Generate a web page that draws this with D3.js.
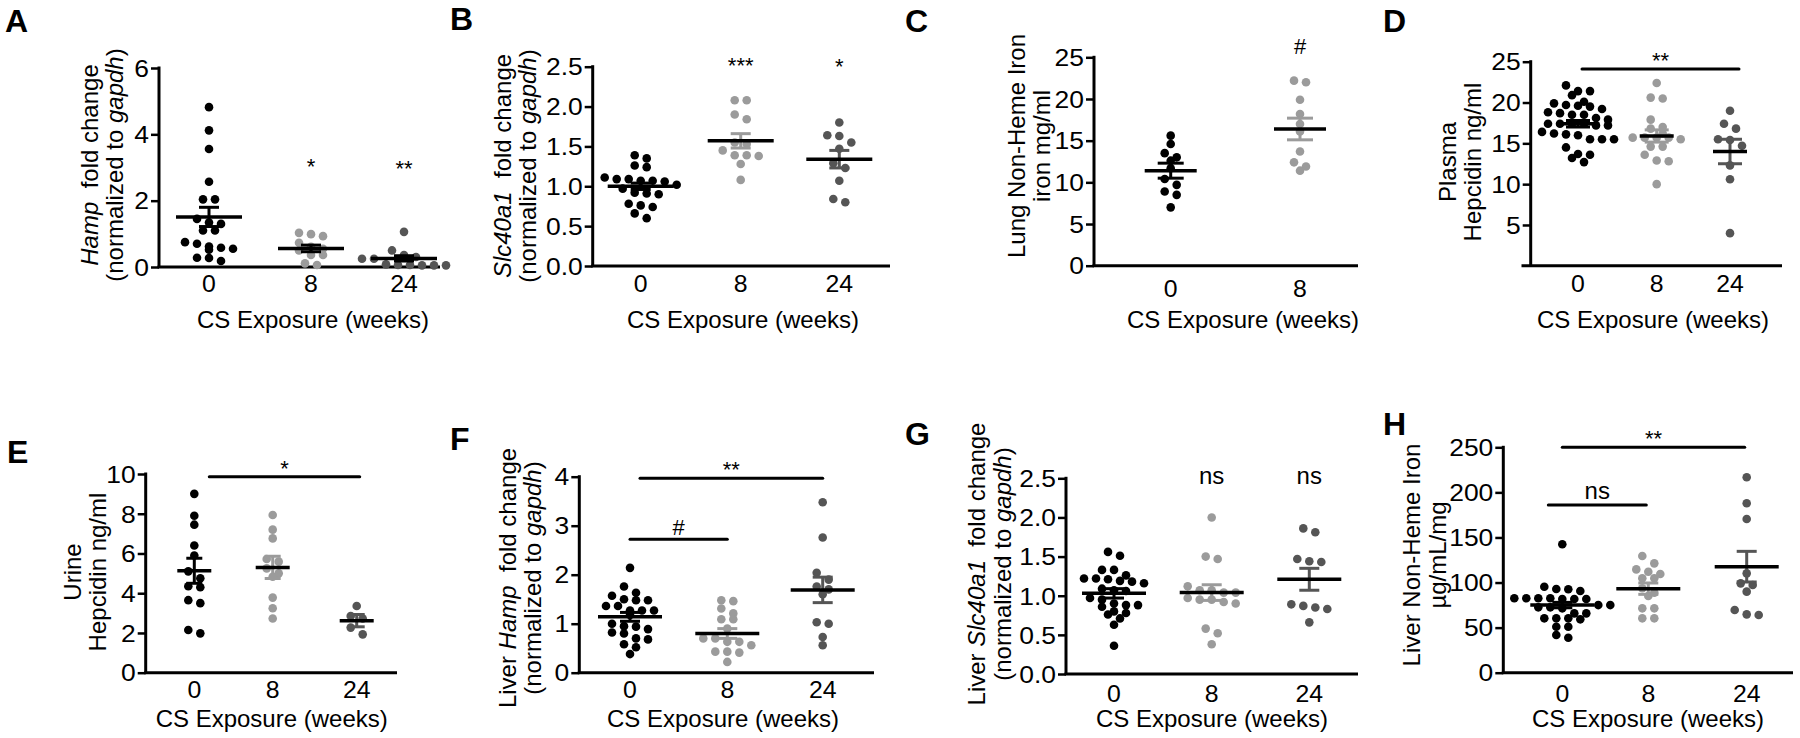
<!DOCTYPE html>
<html><head><meta charset="utf-8">
<script src="https://cdn.jsdelivr.net/npm/d3@7"></script>
<style>
body{margin:0;background:#fff}
svg{display:block}
text{font-family:"Liberation Sans",Arial,Helvetica,sans-serif;fill:#000}
</style>
</head><body>
<svg id="chart" width="1800" height="738"></svg>
<script>
// ---------------- DATA ----------------
const cats3 = ["0", "8", "24"];
const cats2 = ["0", "8"];
const groupColor = {"0": "#000000", "8": "#9b9b9b", "24": "#555555"};

// A: Hamp fold change
const aVals0 = [4.82,4.12,3.56,2.57,2.04,2.04,1.45,1.34,1.30,1.10,1.10,0.75,0.70,0.62,0.58,0.55,0.52,0.28,0.27,0.18];
const aVals8 = [1.03,0.99,0.93,0.73,0.61,0.55,0.50,0.36,0.36,0.11,0.06];
const aVals24 = [1.06,0.50,0.36,0.30,0.25,0.25,0.08,0.06,0.05,0.05,0.05,0.06];
const aMeans = [1.51,0.56,0.26];
const aSems = [0.29,0.10,0.08];
const aTicks = [0,2,4,6];

// B: Slc40a1 fold change
const bVals0 = [1.39,1.35,1.26,1.24,1.11,1.09,1.09,1.07,1.07,1.06,1.02,0.97,0.92,0.91,0.90,0.78,0.76,0.74,0.66,0.60];
const bVals8 = [2.08,2.08,1.90,1.84,1.55,1.53,1.45,1.39,1.39,1.38,1.28,1.08];
const bVals24 = [1.80,1.64,1.63,1.55,1.47,1.29,1.23,1.07,0.84,0.80];
const bMeans = [1.00,1.57,1.34];
const bSems = [0.04,0.09,0.11];
const bTicks = [0,0.5,1.0,1.5,2.0,2.5];

// C: Lung non-heme iron
const cVals0 = [15.6,14.6,13.5,13.0,12.6,11.7,10.4,9.7,8.9,8.5,7.0];
const cVals8 = [22.2,22.0,19.9,18.2,17.0,16.1,13.7,12.4,11.9,11.4];
const cMeans = [11.4,16.4];
const cSems = [0.9,1.3];
const cTicks = [0,5,10,15,20,25];

// D: Plasma hepcidin
const dVals0 = [22.1,21.4,21.4,20.9,20.1,19.9,19.7,19.6,19.5,19.2,18.8,18.7,18.5,18.5,18.1,17.9,17.4,17.4,17.4,17.4,17.2,17.2,16.4,16.2,16.1,16.0,15.5,15.5,15.5,14.5,13.7,13.6,13.2,12.7];
const dVals8 = [22.4,20.6,20.5,17.9,17.0,16.8,16.2,15.7,15.7,15.7,15.7,15.5,14.6,14.6,13.6,12.9,12.8,10.0];
const dVals24 = [19.0,17.4,16.8,15.5,15.4,14.7,12.3,10.6,4.0];
const dMeans = [17.4,15.9,14.0];
const dSems = [0.4,0.75,1.5];
const dTicks = [5,10,15,20,25];

// E: Urine hepcidin
const eVals0 = [9.0,7.9,7.45,6.4,5.9,5.1,4.75,4.35,4.3,3.65,3.5,2.15,1.98];
const eVals8 = [7.94,7.2,6.76,5.72,5.59,5.25,5.0,4.83,3.78,3.24,2.73];
const eVals24 = [3.36,2.85,2.73,2.27,1.93];
const eMeans = [5.13,5.3,2.62];
const eSems = [0.63,0.56,0.31];
const eTicks = [0,2,4,6,8,10];

// F: Liver Hamp
const fVals0 = [2.14,1.76,1.63,1.57,1.50,1.48,1.48,1.36,1.36,1.27,1.27,1.27,1.18,1.0,0.95,0.94,0.89,0.82,0.80,0.70,0.68,0.58,0.52,0.38];
const fVals8 = [1.48,1.46,1.31,1.21,1.09,1.09,0.90,0.70,0.70,0.63,0.63,0.56,0.43,0.43,0.41,0.22];
const fVals24 = [3.48,2.76,2.04,1.90,1.76,1.70,1.60,1.03,1.00,0.73,0.56];
const fMeans = [1.14,0.80,1.69];
const fSems = [0.09,0.10,0.26];
const fTicks = [0,1,2,3,4];

// G: Liver Slc40a1
const gVals0 = [1.56,1.51,1.33,1.33,1.26,1.22,1.22,1.21,1.19,1.18,1.16,1.09,1.07,1.06,0.97,0.95,0.90,0.88,0.88,0.86,0.80,0.78,0.76,0.71,0.63,0.36];
const gVals8 = [2.0,1.50,1.47,1.12,1.07,1.07,1.04,1.04,0.97,0.95,0.95,0.92,0.90,0.58,0.52,0.38];
const gVals24 = [1.86,1.81,1.47,1.44,1.43,0.89,0.87,0.85,0.83,0.66];
const gMeans = [1.03,1.04,1.21];
const gSems = [0.06,0.10,0.14];
const gTicks = [0,0.5,1.0,1.5,2.0,2.5];

// H: Liver non-heme iron
const hVals0 = [142.4,95.4,92.8,92.5,90.6,82.5,82.5,82.5,82.5,81.7,81.7,81.7,75,75,72.5,72.5,71.4,65.8,65.8,60.3,60.3,60.3,59.2,51,51,41.8,38.8];
const hVals8 = [129.4,121.3,114.6,112,109.5,104.7,104.7,93.6,88.8,85,71.4,71.4,60.3,60.3];
const hVals24 = [216.7,187.9,170.5,110.2,99.1,97.3,89.9,69.5,64.7,64];
const hMeans = [75,93.2,117.6];
const hSems = [3,6.3,17];
const hTicks = [0,50,100,150,200,250];

const xTitle = "CS Exposure (weeks)";

// ---------------- PANELS (layout) ----------------
const panels = [
 {label:"A", lp:[5,32], cats:cats3, vals:[aVals0,aVals8,aVals24], means:aMeans, sems:aSems, semBlack:true,
  dom:[0,6], ticks:aTicks, fmt:d3.format("d"), ax:159, xStart:159, xEnd:440, pos:[209,311,404], yr:[267,68],
  half:33, cap:10, tickDy:25, xt:[313,328],
  yt:{xs:[90,115], yc:165, lines:[[["Hamp",1],["\u00a0 fold change",0]],[["(normalized to ",0],["gapdh",1],[")",0]]]},
  stars:[{c:"8",t:"*",y:174},{c:"24",t:"**",y:176}], bars:[]},
 {label:"B", lp:[450,30], cats:cats3, vals:[bVals0,bVals8,bVals24], means:bMeans, sems:bSems,
  dom:[0,2.5], ticks:bTicks, fmt:d3.format(".1f"), ax:592.7, xStart:592.7, xEnd:890, pos:[640.7,740.7,839.3], yr:[266,66.7],
  half:33, cap:10, tickDy:26, xt:[743,328],
  yt:{xs:[503,528], yc:166, lines:[[["Slc40a1",1],["\u00a0 fold change",0]],[["(normalized to ",0],["gapdh",1],[")",0]]]},
  stars:[{c:"8",t:"***",y:73},{c:"24",t:"*",y:74}], bars:[]},
 {label:"C", lp:[905,32], cats:cats2, vals:[cVals0,cVals8], means:cMeans, sems:cSems,
  dom:[0,25], ticks:cTicks, fmt:d3.format("d"), ax:1094, xStart:1094, xEnd:1358, pos:[1170.7,1300], yr:[265.7,57.3],
  half:26, cap:13, tickDy:31, xt:[1243,328],
  yt:{xs:[1017,1042], yc:146, lines:[[["Lung Non-Heme Iron",0]],[["iron mg/ml",0]]]},
  stars:[{c:"8",t:"#",y:54}], bars:[]},
 {label:"D", lp:[1383,32], cats:cats3, vals:[dVals0,dVals8,dVals24], means:dMeans, sems:dSems,
  dom:[0,25], ticks:dTicks, fmt:d3.format("d"), ax:1530.7, xStart:1523, xEnd:1782, pos:[1578,1656.7,1730], yr:[265.8,61.7],
  half:17, cap:12, tickDy:26, xt:[1653,328],
  yt:{xs:[1448,1473], yc:162, lines:[[["Plasma",0]],[["Hepcidin ng/ml",0]]]},
  stars:[], bars:[{a:"0",b:"24",dx:[4,9],y:69,t:"**",ty:68}]},
 {label:"E", lp:[7,463], cats:cats3, vals:[eVals0,eVals8,eVals24], means:eMeans, sems:eSems,
  dom:[0,10], ticks:eTicks, fmt:d3.format("d"), ax:145.7, xStart:145.7, xEnd:397, pos:[194.3,272.7,356.7], yr:[672.7,474],
  half:17, cap:8, tickDy:25, xt:[271.7,727],
  yt:{xs:[73,98], yc:572, lines:[[["Urine",0]],[["Hepcidin ng/ml",0]]]},
  stars:[], bars:[{a:"0",b:"24",dx:[15,3],y:476.7,t:"*",ty:476}]},
 {label:"F", lp:[450,450], cats:cats3, vals:[fVals0,fVals8,fVals24], means:fMeans, sems:fSems,
  dom:[0,4], ticks:fTicks, fmt:d3.format("d"), ax:579.3, xStart:579.3, xEnd:874, pos:[630,727.3,822.7], yr:[672.7,476.7],
  half:32, cap:10, tickDy:25, xt:[723,727],
  yt:{xs:[508,533], yc:578, lines:[[["Liver ",0],["Hamp",1],["\u00a0 fold change",0]],[["(normalized to ",0],["gapdh",1],[")",0]]]},
  stars:[], bars:[{a:"0",b:"24",dx:[10,0],y:478.3,t:"**",ty:477},{a:"0",b:"8",dx:[0,0],y:539.3,t:"#",ty:535}]},
 {label:"G", lp:[905,445], cats:cats3, vals:[gVals0,gVals8,gVals24], means:gMeans, sems:gSems,
  dom:[0,2.5], ticks:gTicks, fmt:d3.format(".1f"), ax:1066, xStart:1066, xEnd:1358, pos:[1114,1211.7,1309.3], yr:[674,478.3],
  half:32, cap:10, tickDy:28, xt:[1212,727],
  yt:{xs:[977,1003], yc:564, lines:[[["Liver ",0],["Slc40a1",1],["\u00a0 fold change",0]],[["(normalized to ",0],["gapdh",1],[")",0]]]},
  stars:[{c:"8",t:"ns",y:484,ns:1},{c:"24",t:"ns",y:484,ns:1}], bars:[]},
 {label:"H", lp:[1383,435], cats:cats3, vals:[hVals0,hVals8,hVals24], means:hMeans, sems:hSems,
  dom:[0,250], ticks:hTicks, fmt:d3.format("d"), ax:1503.3, xStart:1503.3, xEnd:1793, pos:[1562.3,1648.3,1746.7], yr:[672.7,447.3],
  half:32, cap:10, tickDy:29, xt:[1648,727],
  yt:{xs:[1411.7,1438], yc:555, lines:[[["Liver Non-Heme Iron",0]],[["\u00b5g/mL/mg",0]]]},
  stars:[], bars:[{a:"0",b:"24",dx:[0,-2],y:447.3,t:"**",ty:446},{a:"0",b:"8",dx:[-14,-2],y:505,t:"ns",ty:499,ns:1}]}
];

// ---------------- DRAW ----------------
const svg = d3.select("#chart");
const R = 4.3, SP = 12, ROWH = 7.5;

function swarm(vals, y) {
  const pts = vals.map(v => ({v, py: y(v)})).sort((a, b) => a.py - b.py);
  const rows = [];
  pts.forEach(p => {
    const last = rows[rows.length - 1];
    if (last && p.py - last[0].py < ROWH) last.push(p); else rows.push([p]);
  });
  rows.forEach(row => { const n = row.length; row.forEach((p, i) => p.dx = (i - (n - 1) / 2) * SP); });
  return pts;
}

panels.forEach(P => {
  const g = svg.append("g");
  const y = d3.scaleLinear().domain(P.dom).range(P.yr);
  const x = d3.scaleOrdinal().domain(P.cats).range(P.pos);

  // panel label
  g.append("text").attr("x", P.lp[0]).attr("y", P.lp[1]).attr("font-size", 32).attr("font-weight", "bold").text(P.label);

  // y axis
  const yAxis = d3.axisLeft(y).tickValues(P.ticks).tickFormat(P.fmt).tickSize(8).tickSizeOuter(0).tickPadding(2);
  const ya = g.append("g").attr("transform", `translate(${P.ax},0)`).call(yAxis);
  ya.attr("font-family", null);
  ya.select(".domain").remove();
  ya.selectAll(".tick line").attr("stroke", "#000").attr("stroke-width", 2.5);
  const sx = 1.15;
  ya.selectAll(".tick text").attr("font-size", 23).attr("dy", "0.36em")
    .attr("x", -10 / sx).attr("transform", `scale(${sx},1)`).attr("fill", "#000");
  g.append("line").attr("x1", P.ax).attr("x2", P.ax).attr("y1", y(P.dom[1]) - 1.5).attr("y2", y(P.dom[0]))
    .attr("stroke", "#000").attr("stroke-width", 3);
  // x axis
  g.append("line").attr("x1", P.xStart - 1.5).attr("x2", P.xEnd).attr("y1", y(P.dom[0])).attr("y2", y(P.dom[0]))
    .attr("stroke", "#000").attr("stroke-width", 3);
  const sx2 = 1.08;
  P.cats.forEach(c => {
    g.append("text").attr("transform", `translate(${x(c)},${y(P.dom[0]) + P.tickDy}) scale(${sx2},1)`)
      .attr("text-anchor", "middle").attr("font-size", 23).text(c);
  });

  // axis titles
  g.append("text").attr("x", P.xt[0]).attr("y", P.xt[1]).attr("text-anchor", "middle").attr("font-size", 24).text(xTitle);
  P.yt.lines.forEach((line, li) => {
    const t = g.append("text").attr("transform", `translate(${P.yt.xs[li] + 8},${P.yt.yc}) rotate(-90)`)
      .attr("text-anchor", "middle").attr("font-size", 24);
    line.forEach(([s, it]) => t.append("tspan").attr("font-style", it ? "italic" : "normal").text(s));
  });

  // dots
  P.cats.forEach((c, gi) => {
    const pts = swarm(P.vals[gi], y);
    g.selectAll(null).data(pts).enter().append("circle")
      .attr("cx", d => x(c) + d.dx).attr("cy", d => d.py).attr("r", R).attr("fill", groupColor[c]);
  });
  // mean & SEM
  P.cats.forEach((c, gi) => {
    const m = P.means[gi], s = P.sems[gi], cx = x(c);
    const col = P.semBlack ? "#000" : groupColor[c];
    const sg = g.append("g").attr("stroke", col).attr("stroke-width", 3);
    sg.append("line").attr("x1", cx).attr("x2", cx).attr("y1", y(m + s)).attr("y2", y(m - s));
    sg.append("line").attr("x1", cx - P.cap).attr("x2", cx + P.cap).attr("y1", y(m + s)).attr("y2", y(m + s));
    sg.append("line").attr("x1", cx - P.cap).attr("x2", cx + P.cap).attr("y1", y(m - s)).attr("y2", y(m - s));
    g.append("line").attr("x1", cx - P.half).attr("x2", cx + P.half).attr("y1", y(m)).attr("y2", y(m))
      .attr("stroke", "#000").attr("stroke-width", 3.5);
  });

  // significance
  P.stars.forEach(s => {
    g.append("text").attr("x", x(s.c)).attr("y", s.y).attr("text-anchor", "middle")
      .attr("font-size", s.ns ? 24 : 22).text(s.t);
  });
  P.bars.forEach(b => {
    const x1 = x(b.a) + b.dx[0], x2 = x(b.b) + b.dx[1];
    g.append("line").attr("x1", x1).attr("x2", x2).attr("y1", b.y).attr("y2", b.y)
      .attr("stroke", "#000").attr("stroke-width", 3).attr("stroke-linecap", "round");
    g.append("text").attr("x", (x1 + x2) / 2).attr("y", b.ty).attr("text-anchor", "middle")
      .attr("font-size", b.ns ? 24 : 22).text(b.t);
  });
});
</script>
</body></html>
